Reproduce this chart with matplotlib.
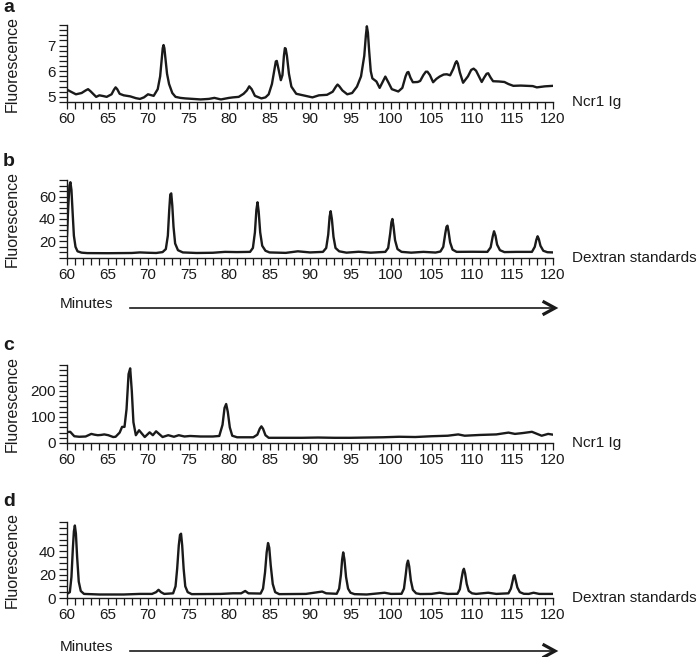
import numpy as np
import matplotlib
matplotlib.use("Agg")
import matplotlib.pyplot as plt
from matplotlib.ticker import MultipleLocator
from matplotlib.lines import Line2D

plt.rcParams['font.family'] = ['Liberation Sans', 'DejaVu Sans']

# panel a: Ncr1 Ig (fluorescence vs minutes)
a_min = [60.0, 60.5, 61.1, 61.8, 62.3, 62.6, 62.9, 63.6, 64.0, 64.5, 64.9, 65.5, 65.8, 66.0, 66.2,
         66.5, 67.0, 67.8, 68.5, 69.0, 69.5, 70.0, 70.7, 71.2, 71.5, 71.7, 71.82, 71.92, 72.02, 72.15,
         72.35, 72.6, 73.0, 73.4, 74.0, 74.6, 75.5, 76.5, 77.5, 78.2, 79.0, 80.0, 80.5, 81.2, 81.8,
         82.2, 82.5, 82.8, 83.2, 84.0, 84.5, 84.9, 85.3, 85.6, 85.78, 85.9, 86.1, 86.4, 86.6, 86.78,
         86.9, 87.0, 87.15, 87.4, 87.7, 88.3, 89.3, 90.3, 91.1, 92.1, 92.8, 93.2, 93.4, 93.6, 94.0,
         94.6, 95.2, 95.8, 96.3, 96.7, 96.9, 97.02, 97.15, 97.3, 97.5, 97.7, 98.2, 98.6, 99.0, 99.3,
         99.7, 100.1, 100.9, 101.4, 101.8, 102.0, 102.15, 102.4, 102.7, 103.3, 103.6, 104.0, 104.3,
         104.5, 104.8, 105.2, 105.6, 106.0, 106.5, 106.9, 107.3, 107.7, 107.95, 108.1, 108.25, 108.5,
         108.9, 109.5, 109.9, 110.2, 110.5, 111.2, 111.5, 111.8, 112.0, 112.3, 112.6, 113.3, 114.0,
         114.5, 115.1, 116.0, 116.7, 117.5, 118.0, 119.0, 120.0]
a_val = [5.28, 5.2, 5.1, 5.15, 5.25, 5.3, 5.22, 5.0, 5.06, 5.03, 5.0, 5.1, 5.28, 5.37, 5.3,
         5.12, 5.06, 5.02, 4.95, 4.92, 4.98, 5.1, 5.04, 5.3, 5.8, 6.5, 6.9, 7.02, 6.9, 6.5,
         5.9, 5.5, 5.15, 5.0, 4.96, 4.94, 4.92, 4.9, 4.92, 4.96, 4.9, 4.96, 4.98, 5.0, 5.12,
         5.25, 5.41, 5.3, 5.04, 4.94, 4.98, 5.1, 5.5, 6.05, 6.38, 6.4, 6.1, 5.65, 5.85, 6.6,
         6.9, 6.88, 6.6, 5.9, 5.4, 5.12, 5.05, 4.98, 5.06, 5.08, 5.2, 5.4, 5.48, 5.42, 5.25,
         5.1, 5.15, 5.4, 5.8, 6.6, 7.4, 7.75, 7.5, 6.8, 6.0, 5.72, 5.6, 5.35, 5.6, 5.79,
         5.55, 5.3, 5.21, 5.35, 5.8, 5.95, 5.97, 5.75, 5.57, 5.58, 5.62, 5.85, 5.98,
         5.98, 5.85, 5.57, 5.7, 5.79, 5.87, 5.88, 5.84, 6.1, 6.32, 6.39, 6.3, 5.95,
         5.55, 5.8, 6.05, 6.1, 6.02, 5.58, 5.75, 5.9, 5.92, 5.75, 5.61, 5.6, 5.58,
         5.5, 5.43, 5.44, 5.43, 5.42, 5.37, 5.41, 5.43]

# panel b: dextran standards
b_min = [60.0, 60.15, 60.3, 60.42, 60.55, 60.7, 60.85, 61.05, 61.3, 61.8, 62.5, 65, 68, 69, 70, 71,
         71.8, 72.2, 72.45, 72.62, 72.75, 72.87, 73.0, 73.15, 73.35, 73.7, 74.3, 76, 78, 79.5, 81,
         82.6, 82.95, 83.2, 83.38, 83.52, 83.66, 83.85, 84.1, 84.5, 85, 87, 88.5, 90, 91.6, 92.0,
         92.25, 92.42, 92.55, 92.7, 92.9, 93.15, 93.6, 94.5, 96, 97.5, 99.3, 99.65, 99.9, 100.05,
         100.17, 100.3, 100.5, 100.8, 101.3, 102.5, 104, 105.5, 106.1, 106.45, 106.7, 106.85, 106.97,
         107.1, 107.3, 107.6, 108.1, 110, 111.9, 112.3, 112.55, 112.72, 112.9, 113.1, 113.45, 114,
         115.5, 117.4, 117.75, 117.95, 118.1, 118.25, 118.45, 118.8, 119.3, 120]
b_val = [25, 50, 70, 73, 66, 45, 25, 15, 11, 9.8, 9.4, 9.3, 9.5, 10, 9.7, 9.5,
         10.3, 13, 25, 48, 62, 63, 52, 33, 18, 12, 10, 9.5, 9.7, 10.5, 10.3,
         10.5, 14, 28, 48, 55, 47, 28, 16, 11.5, 10, 9.6, 11, 10, 10.5, 14,
         26, 42, 47, 40, 24, 14, 11, 9.8, 10.6, 9.8, 10.5, 14, 27, 37,
         40, 34, 21, 13, 10.5, 9.8, 10.5, 9.9, 10.8, 15, 27, 33, 34,
         29, 19, 12.5, 10.5, 10.6, 10.5, 14.5, 24, 29, 25, 17, 12, 10.3,
         10.5, 10.5, 15, 21.5, 24.5, 22, 16, 11.5, 10.2, 10]

# panel c: Ncr1 Ig
c_min = [60.0, 60.4, 60.9, 61.5, 62.3, 63.0, 63.4, 63.8, 64.2, 64.6, 65.1, 65.7, 66.0, 66.5, 66.8,
         67.1, 67.35, 67.6, 67.8, 68.0, 68.2, 68.5, 68.9, 69.6, 70.2, 70.6, 71.0, 71.8, 72.5, 73.2,
         73.8, 74.5, 75.2, 76.5, 78, 78.8, 79.2, 79.45, 79.65, 79.85, 80.1, 80.4, 81, 83, 83.5, 83.8,
         84.0, 84.2, 84.5, 84.9, 87, 89, 91, 93, 95, 97, 99, 101, 103, 105, 107, 108.3, 109.1, 111,
         113, 114.5, 115.3, 116.2, 117.4, 118.6, 119.4, 120]
c_val = [42, 43, 26, 24, 25, 35, 32, 30, 31, 33, 30, 23, 24, 40, 62,
         62, 130, 265, 287, 200, 80, 30, 49, 23, 41, 30, 45, 23, 30, 24,
         30, 25, 27, 25, 25, 27, 70, 135, 150, 120, 60, 28, 22, 22, 32, 55,
         64, 55, 30, 20, 20, 20, 21, 20, 20, 21, 22, 24, 23, 26, 28, 33, 28, 31,
         33, 40, 35, 38, 43, 28, 35, 32]

# panel d: dextran standards
d_min = [60.0, 60.35, 60.55, 60.72, 60.85, 60.97, 61.1, 61.25, 61.45, 61.7, 62.1, 64, 67, 69, 70.5,
         71.0, 71.3, 71.6, 72, 73.1, 73.4, 73.6, 73.8, 73.95, 74.08, 74.22, 74.4, 74.6, 74.9, 75.4,
         79, 80.5, 81.5, 82.0, 82.4, 83.9, 84.2, 84.45, 84.65, 84.82, 84.97, 85.15, 85.4, 85.7, 86.2,
         89.5, 90.5, 91.5, 92, 93.3, 93.6, 93.82, 93.97, 94.1, 94.25, 94.45, 94.7, 95.0, 95.5, 97,
         98.5, 99.2, 100, 101.3, 101.6, 101.82, 101.97, 102.1, 102.25, 102.45, 102.7, 103.1, 103.6,
         105, 106, 107, 108.2, 108.5, 108.72, 108.88, 109.0, 109.15, 109.35, 109.6, 110.0, 110.5,
         112, 113, 114.5, 114.8, 115.0, 115.15, 115.25, 115.4, 115.6, 115.9, 116.4, 117, 117.6,
         118.3, 120]
d_val = [3.5, 5, 18, 42, 57, 62, 55, 35, 14, 6, 3.5, 3, 3, 3.5, 3.5,
         5, 7, 5, 3.5, 4, 10, 25, 45, 54, 55, 45, 25, 10, 5, 3.3,
         3.5, 4, 4, 6, 4, 3.8, 8, 22, 39, 47, 43, 28, 12, 5, 3.3,
         3.5, 4.5, 5.5, 4, 3.6, 8, 20, 33, 39, 33, 18, 8, 4.5, 3.3, 3,
         4, 4.5, 3.5, 3.6, 8, 20, 29, 32, 27, 15, 7, 4, 3.4,
         3.5, 4.5, 3.5, 3.6, 7.5, 17, 23, 25, 21, 12, 6, 4, 3.5,
         4.5, 3.5, 4, 8, 14, 19, 19.5, 15, 9, 5, 3.6, 3.5, 4.5,
         3.5, 3.5]

letters = ['a', 'b', 'c', 'd']
labels = ['Ncr1 Ig', 'Dextran standards', 'Ncr1 Ig', 'Dextran standards']
ylims = [(4.8, 7.8), (5, 75), (0, 300), (0, 65)]
yticks = [[5, 6, 7], [20, 40, 60], [0, 100, 200], [0, 20, 40]]
yminor = [0.2, 5, 20, 5]
series = [(a_min, a_val), (b_min, b_val), (c_min, c_val), (d_min, d_val)]

W, H = 697, 657
fig = plt.figure(figsize=(W / 100, H / 100), dpi=100)

# pixel layout: (top, bottom) of each axes
rows = [(25, 102), (180, 258), (365, 443), (522, 598)]
letter_y = [8, 161, 345, 501]
x0, x1 = 67, 553
col = '#1a1a1a'


def fx(px):
    return px / W


def fy(py):
    return 1 - py / H


for i, (top, bot) in enumerate(rows):
    ax = fig.add_axes([fx(x0), fy(bot), (x1 - x0) / W, (bot - top) / H])
    xs, ys = series[i]
    ax.plot(xs, ys, color=col, lw=1.7, solid_joinstyle='round')
    ax.set_xlim(60, 120)
    ax.set_ylim(*ylims[i])
    ax.set_xticks(range(60, 121, 5))
    ax.xaxis.set_minor_locator(MultipleLocator(1))
    ax.set_yticks(yticks[i])
    ax.yaxis.set_minor_locator(MultipleLocator(yminor[i]))
    for s in ['top', 'right']:
        ax.spines[s].set_visible(False)
    for s in ['left', 'bottom']:
        ax.spines[s].set_linewidth(1.0)
        ax.spines[s].set_color(col)
    ax.tick_params(axis='both', which='both', direction='out', width=0.9, color=col,
                   labelsize=11, labelcolor=col)
    ax.tick_params(axis='x', which='both', length=5, pad=2.5)
    ax.tick_params(axis='y', which='both', length=6, pad=2)
    fig.text(fx(12), fy((top + bot) / 2), 'Fluorescence', rotation=90, fontsize=11.5,
             color=col, va='center', ha='center')
    fig.text(fx(572), fy(bot), labels[i], fontsize=11, color=col, va='center', ha='left')
    fig.text(fx(3), fy(letter_y[i]), letters[i], fontsize=14, fontweight='bold',
             color=col, va='center', ha='left')

# "Minutes" arrows under panels b and d
for yy in [304, 647]:
    ya = yy + 4
    fig.text(fx(60), fy(yy), 'Minutes', fontsize=11, color=col, va='center', ha='left')
    fig.add_artist(Line2D([fx(130), fx(554)], [fy(ya), fy(ya)], lw=1.2, color=col))
    fig.add_artist(Line2D([fx(544), fx(555), fx(544)], [fy(ya - 6), fy(ya), fy(ya + 6)],
                          lw=2.3, color=col, solid_joinstyle='miter'))

fig.savefig('out.png', dpi=100)
